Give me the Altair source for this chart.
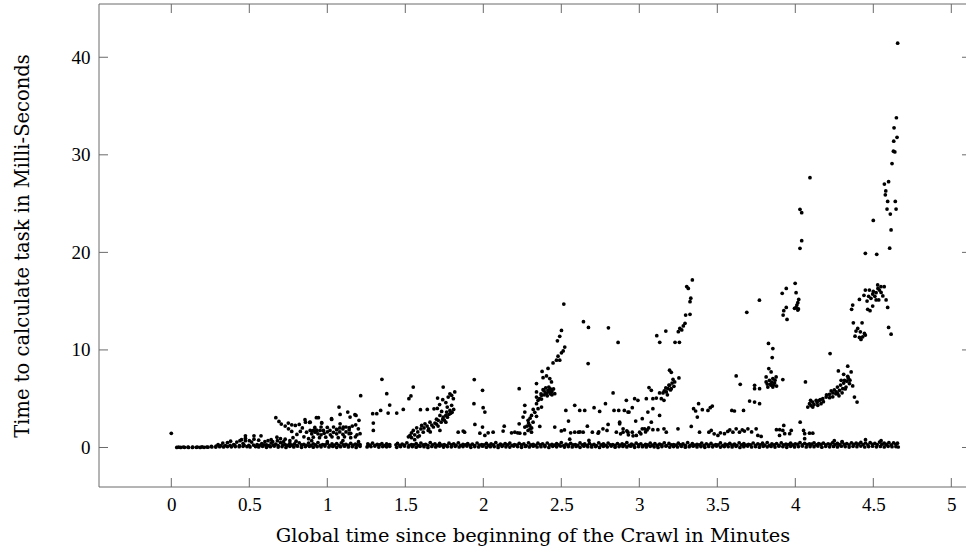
import altair as alt
import pandas as pd

# ---------------- data ----------------
x_ticks = [0, 0.5, 1, 1.5, 2, 2.5, 3, 3.5, 4, 4.5, 5]
y_ticks = [0, 10, 20, 30, 40]

# dense band of fast tasks near 0 ms (lower row)
band_a_x = [
    0.035, 0.06, 0.085, 0.11, 0.135, 0.16, 0.185, 0.21, 0.235, 0.26,
    0.285, 0.31, 0.335, 0.36, 0.385, 0.41, 0.435, 0.46, 0.485, 0.505,
    0.54, 0.56, 0.585, 0.61, 0.635, 0.66, 0.685, 0.71, 0.735, 0.76,
    0.785, 0.81, 0.835, 0.86, 0.885, 0.91, 0.935, 0.96, 0.985, 1.01,
    1.035, 1.06, 1.085, 1.11, 1.135, 1.16, 1.185, 1.21, 1.255, 1.28,
    1.305, 1.33, 1.355, 1.38, 1.40, 1.445, 1.47, 1.495, 1.52, 1.545,
    1.57, 1.595, 1.62, 1.645, 1.67, 1.695, 1.72, 1.745, 1.77, 1.795,
    1.82, 1.845, 1.87, 1.895, 1.92, 1.945, 1.97, 1.995, 2.02, 2.045,
    2.07, 2.095, 2.12, 2.145, 2.17, 2.195, 2.22, 2.245, 2.27, 2.295,
    2.32, 2.345, 2.37, 2.395, 2.42, 2.445, 2.47, 2.495, 2.52, 2.545,
    2.57, 2.595, 2.62, 2.645, 2.67, 2.695, 2.72, 2.745, 2.77, 2.795,
    2.82, 2.845, 2.87, 2.895, 2.92, 2.945, 2.97, 2.995, 3.02, 3.045,
    3.07, 3.095, 3.12, 3.145, 3.17, 3.195, 3.22, 3.245, 3.27, 3.295,
    3.32, 3.345, 3.37, 3.395, 3.42, 3.445, 3.47, 3.495, 3.52, 3.545,
    3.57, 3.595, 3.62, 3.645, 3.67, 3.695, 3.72, 3.745, 3.77, 3.795,
    3.82, 3.845, 3.87, 3.895, 3.92, 3.945, 3.97, 3.995, 4.02, 4.045,
    4.07, 4.095, 4.12, 4.145, 4.17, 4.195, 4.22, 4.245, 4.27, 4.295,
    4.32, 4.345, 4.37, 4.395, 4.42, 4.445, 4.47, 4.495, 4.52, 4.545,
    4.57, 4.595, 4.62, 4.645, 4.66,
]
band_a_y = [
    0.0, 0.0, 0.02, 0.0, 0.0, 0.02, 0.0, 0.02, 0.03, 0.05,
    0.04, 0.08, 0.06, 0.1, 0.07, 0.1, 0.08, 0.12, 0.1, 0.06,
    0.1, 0.05, 0.12, 0.02, 0.08, 0.15, 0.04, 0.1, 0.0, 0.12,
    0.06, 0.14, 0.02, 0.09, 0.12, 0.03, 0.1, 0.07, 0.15, 0.05,
    0.11, 0.02, 0.08, 0.13, 0.05, 0.1, 0.0, 0.12, 0.06, 0.09,
    0.14, 0.04, 0.1, 0.07, 0.12, 0.02, 0.09, 0.15, 0.05, 0.1,
    0.03, 0.12, 0.08, 0.0, 0.11, 0.06, 0.14, 0.04, 0.1, 0.07,
    0.12, 0.05, 0.09, 0.15, 0.02, 0.1, 0.06, 0.13, 0.03, 0.08,
    0.1, 0.0, 0.12, 0.07, 0.04, 0.14, 0.09, 0.02, 0.11, 0.06,
    0.13, 0.05, 0.08, 0.1, 0.01, 0.12, 0.07, 0.15, 0.04, 0.09,
    0.06, 0.11, 0.02, 0.13, 0.08, 0.05, 0.1, 0.0, 0.12, 0.07,
    0.15, 0.03, 0.09, 0.11, 0.06, 0.13, 0.02, 0.1, 0.08, 0.05,
    0.12, 0.07, 0.0, 0.1, 0.14, 0.04, 0.09, 0.06, 0.12, 0.03,
    0.08, 0.13, 0.05, 0.1, 0.02, 0.11, 0.07, 0.15, 0.04, 0.09,
    0.1, 0.06, 0.12, 0.01, 0.08, 0.14, 0.05, 0.1, 0.03, 0.12,
    0.07, 0.11, 0.04, 0.13, 0.09, 0.02, 0.12, 0.06, 0.1, 0.15,
    0.05, 0.1, 0.08, 0.14, 0.03, 0.12, 0.07, 0.11, 0.06, 0.13,
    0.09, 0.04, 0.12, 0.08, 0.15, 0.05, 0.1, 0.13, 0.07, 0.11,
    0.06, 0.12, 0.08, 0.1, 0.05,
]

# dense band, upper row
band_b_x = [
    0.55, 0.58, 0.61, 0.64, 0.67, 0.70, 0.73, 0.76, 0.79, 0.82,
    0.85, 0.88, 0.91, 0.94, 0.97, 1.00, 1.03, 1.06, 1.09, 1.12,
    1.15, 1.18, 1.21, 1.26, 1.29, 1.32, 1.35, 1.38, 1.40, 1.45,
    1.48, 1.51, 1.54, 1.57, 1.60, 1.63, 1.66, 1.69, 1.72, 1.75,
    1.78, 1.81, 1.84, 1.87, 1.90, 1.93, 1.96, 1.99, 2.02, 2.05,
    2.08, 2.11, 2.14, 2.17, 2.20, 2.23, 2.26, 2.29, 2.32, 2.35,
    2.38, 2.41, 2.44, 2.47, 2.50, 2.53, 2.56, 2.59, 2.62, 2.65,
    2.68, 2.71, 2.74, 2.77, 2.80, 2.83, 2.86, 2.89, 2.92, 2.95,
    2.98, 3.01, 3.04, 3.07, 3.10, 3.13, 3.16, 3.19, 3.22, 3.25,
    3.28, 3.31, 3.34, 3.37, 3.40, 3.43, 3.46, 3.49, 3.52, 3.55,
    3.58, 3.61, 3.64, 3.67, 3.70, 3.73, 3.76, 3.79, 3.82, 3.85,
    3.88, 3.91, 3.94, 3.97, 4.00, 4.03, 4.06, 4.09, 4.12, 4.15,
    4.18, 4.21, 4.24, 4.27, 4.30, 4.33, 4.36, 4.39, 4.42, 4.45,
    4.48, 4.51, 4.54, 4.57, 4.60, 4.63, 4.655,
]
band_b_y = [
    0.3, 0.4, 0.28, 0.45, 0.35, 0.5, 0.3, 0.42, 0.36, 0.48,
    0.32, 0.45, 0.38, 0.5, 0.3, 0.44, 0.36, 0.4, 0.48, 0.33,
    0.42, 0.35, 0.3, 0.38, 0.45, 0.32, 0.4, 0.36, 0.3, 0.42,
    0.35, 0.48, 0.3, 0.4, 0.45, 0.33, 0.5, 0.38, 0.42, 0.3,
    0.44, 0.36, 0.48, 0.32, 0.4, 0.35, 0.46, 0.3, 0.42, 0.38,
    0.5, 0.34, 0.4, 0.45, 0.3, 0.42, 0.36, 0.48, 0.33, 0.44,
    0.38, 0.46, 0.32, 0.4, 0.5, 0.35, 0.43, 0.3, 0.47, 0.36,
    0.42, 0.33, 0.48, 0.38, 0.45, 0.3, 0.4, 0.36, 0.5, 0.34,
    0.45, 0.38, 0.32, 0.46, 0.4, 0.35, 0.48, 0.42, 0.3, 0.44,
    0.36, 0.5, 0.4, 0.33, 0.45, 0.38, 0.42, 0.3, 0.47, 0.35,
    0.43, 0.35, 0.48, 0.4, 0.32, 0.46, 0.38, 0.44, 0.5, 0.36,
    0.4, 0.47, 0.34, 0.45, 0.38, 0.5, 0.42, 0.36, 0.48, 0.4,
    0.45, 0.38, 0.5, 0.42, 0.55, 0.4, 0.48, 0.44, 0.52, 0.46,
    0.5, 0.42, 0.55, 0.45, 0.5, 0.48, 0.44,
]

# dense band, middle row
band_c_x = [
    0.047, 0.077, 0.107, 0.137, 0.167, 0.197, 0.227, 0.257, 0.287, 0.317,
    0.347, 0.377, 0.407, 0.437, 0.467, 0.497, 0.527, 0.565, 0.595, 0.625,
    0.655, 0.685, 0.715, 0.745, 0.775, 0.805, 0.835, 0.865, 0.895, 0.925,
    0.955, 0.985, 1.015, 1.045, 1.075, 1.105, 1.135, 1.165, 1.195, 1.262,
    1.275, 1.305, 1.335, 1.365, 1.395, 1.44, 1.465, 1.495, 1.525, 1.555,
    1.585, 1.615, 1.645, 1.675, 1.705, 1.735, 1.765, 1.795, 1.825, 1.855,
    1.885, 1.915, 1.945, 1.975, 2.005, 2.035, 2.065, 2.095, 2.125, 2.155,
    2.185, 2.215, 2.245, 2.275, 2.305, 2.335, 2.365, 2.395, 2.425, 2.455,
    2.485, 2.515, 2.545, 2.575, 2.605, 2.635, 2.665, 2.695, 2.725, 2.755,
    2.785, 2.815, 2.845, 2.875, 2.905, 2.935, 2.965, 2.995, 3.025, 3.055,
    3.085, 3.115, 3.145, 3.175, 3.205, 3.235, 3.265, 3.295, 3.325, 3.355,
    3.385, 3.415, 3.445, 3.475, 3.505, 3.535, 3.565, 3.595, 3.625, 3.655,
    3.685, 3.715, 3.745, 3.775, 3.805, 3.835, 3.865, 3.895, 3.925, 3.955,
    3.985, 4.015, 4.045, 4.075, 4.105, 4.135, 4.165, 4.195, 4.225, 4.255,
    4.285, 4.315, 4.345, 4.375, 4.405, 4.435, 4.465, 4.495, 4.525, 4.555,
    4.585, 4.615, 4.645,
]
band_c_y = [
    0.04, 0.05, 0.03, 0.05, 0.04, 0.06, 0.05, 0.12, 0.15, 0.18,
    0.2, 0.22, 0.25, 0.2, 0.25, 0.22, 0.25, 0.22, 0.26, 0.2,
    0.24, 0.2, 0.27, 0.22, 0.25, 0.19, 0.28, 0.23, 0.21, 0.26,
    0.22, 0.27, 0.2, 0.25, 0.23, 0.28, 0.21, 0.24, 0.26, 0.2,
    0.25, 0.22, 0.28, 0.2, 0.24, 0.27, 0.21, 0.25, 0.23, 0.26,
    0.2, 0.26, 0.23, 0.28, 0.22, 0.25, 0.2, 0.27, 0.24, 0.21,
    0.27, 0.23, 0.2, 0.25, 0.28, 0.22, 0.26, 0.21, 0.24, 0.27,
    0.22, 0.25, 0.28, 0.2, 0.26, 0.23, 0.27, 0.21, 0.25, 0.24,
    0.26, 0.2, 0.24, 0.27, 0.22, 0.28, 0.23, 0.25, 0.2, 0.26,
    0.23, 0.27, 0.21, 0.25, 0.28, 0.22, 0.24, 0.26, 0.2, 0.27,
    0.25, 0.22, 0.26, 0.2, 0.27, 0.24, 0.28, 0.23, 0.21, 0.25,
    0.28, 0.21, 0.25, 0.23, 0.26, 0.2, 0.27, 0.24, 0.22, 0.26,
    0.24, 0.27, 0.22, 0.28, 0.25, 0.21, 0.26, 0.23, 0.27, 0.3,
    0.28, 0.32, 0.26, 0.3, 0.34, 0.28, 0.31, 0.27, 0.33, 0.3,
    0.29, 0.33, 0.27, 0.31, 0.35, 0.3, 0.28, 0.32, 0.3, 0.34,
    0.31, 0.28, 0.33,
]

# scattered (slower) tasks, as (minutes, ms) pairs, grouped by stretch of the crawl
early = [
    (0.0, 1.45), (0.30, 0.3), (0.33, 0.45), (0.36, 0.5), (0.38, 0.65), (0.40, 0.3),
    (0.42, 0.55), (0.44, 0.7), (0.45, 0.8), (0.46, 0.4), (0.475, 1.2), (0.475, 0.95),
    (0.475, 0.7), (0.50, 0.7), (0.515, 0.55), (0.53, 1.2), (0.53, 0.85), (0.56, 0.75),
    (0.575, 1.2), (0.60, 0.6), (0.62, 0.7), (0.64, 0.8), (0.65, 0.6), (0.68, 0.7),
    (0.72, 0.6), (0.76, 0.7), (0.80, 0.65), (0.90, 0.7), (1.00, 0.6), (1.10, 0.7),
    (1.20, 0.6), (0.67, 3.05), (0.69, 2.67), (0.705, 2.4), (0.73, 2.2), (0.75, 2.5),
    (0.772, 2.33), (0.795, 2.26), (0.82, 2.36), (0.84, 2.0), (0.857, 2.85), (0.86, 2.6),
    (0.887, 2.57), (0.93, 3.05), (0.751, 1.92), (0.772, 1.65), (0.805, 1.34),
    (0.827, 1.65), (0.867, 1.57), (0.90, 1.68), (0.922, 1.57), (0.932, 1.75),
    (0.73, 0.85), (0.677, 1.06), (0.70, 0.9), (0.78, 1.0), (0.85, 1.1), (0.88, 0.9),
]
stretch_1 = [
    (0.89, 2.6), (0.943, 3.05), (0.964, 2.54), (1.028, 2.88), (1.075, 4.15),
    (1.082, 3.39), (1.131, 3.63), (1.146, 3.12), (1.184, 3.29), (1.203, 2.78),
    (1.182, 2.33), (1.199, 1.92), (1.21, 1.41), (1.177, 3.36), (1.14, 1.41),
    (1.141, 2.03), (1.103, 2.09), (1.082, 2.43), (1.027, 2.95), (1.017, 1.75),
    (0.954, 1.75), (0.911, 1.75), (1.061, 1.82), (0.964, 2.5), (0.89, 1.75),
    (0.933, 1.75), (0.975, 1.75), (1.06, 1.85), (1.10, 1.9), (1.12, 1.6),
    (1.14, 1.8), (0.92, 2.05), (0.96, 2.1), (1.0, 2.05), (1.04, 2.1), (1.08, 2.0),
    (1.12, 2.1), (1.16, 2.2), (0.90, 1.4), (0.94, 1.4), (0.98, 1.45), (1.02, 1.3),
    (1.06, 1.4), (1.10, 1.35), (1.15, 1.45), (1.18, 1.1), (0.91, 1.06), (0.95, 1.0),
    (0.99, 1.06), (1.03, 1.1), (1.07, 1.0), (1.11, 1.1), (1.15, 1.0), (1.19, 1.3),
    (1.0, 1.6), (1.04, 1.55), (1.08, 1.6), (0.96, 1.3), (1.214, 5.31), (1.381, 5.52),
    (1.40, 4.35), (1.39, 3.53), (1.445, 3.53), (1.342, 3.8), (1.317, 3.46),
    (1.291, 3.46), (1.295, 2.5), (1.295, 1.75), (1.35, 6.99),
]
stretch_2 = [
    (1.487, 3.9), (1.551, 6.2), (1.536, 5.28), (1.523, 5.0), (1.597, 3.87),
    (1.641, 3.9), (1.684, 3.97), (1.743, 6.2), (1.707, 5.07), (1.705, 4.0),
    (1.733, 3.7), (1.769, 4.15), (1.797, 4.32), (1.817, 5.69), (1.797, 5.35),
    (1.775, 5.17), (1.786, 5.5), (1.808, 5.0), (1.76, 4.6), (1.74, 4.9), (1.72, 4.4),
    (1.551, 1.75), (1.573, 2.02), (1.605, 2.26), (1.626, 2.43), (1.658, 2.6),
    (1.647, 1.75), (1.615, 1.57), (1.53, 1.23), (1.711, 2.78), (1.722, 3.29),
    (1.743, 3.12), (1.765, 3.63), (1.786, 3.8), (1.722, 1.75), (1.839, 1.57),
    (1.871, 1.68), (1.54, 1.5), (1.56, 1.3), (1.58, 1.6), (1.59, 1.2), (1.60, 1.9),
    (1.62, 2.0), (1.64, 2.2), (1.65, 1.9), (1.67, 2.3), (1.68, 2.1), (1.69, 2.5),
    (1.70, 2.4), (1.71, 2.2), (1.73, 2.6), (1.74, 2.9), (1.75, 2.8), (1.76, 3.3),
    (1.77, 3.1), (1.78, 3.4), (1.79, 3.5), (1.80, 3.6), (1.81, 3.9), (1.76, 2.6),
    (1.70, 2.9), (1.66, 1.6), (1.58, 1.1), (1.54, 1.0), (1.56, 0.8), (1.52, 1.1),
    (1.942, 6.96), (1.995, 5.86), (1.94, 4.49), (1.999, 4.08), (2.01, 3.63),
    (1.946, 2.36), (1.995, 2.09), (1.978, 1.47), (2.01, 1.23), (2.031, 1.51),
    (2.063, 1.57), (1.88, 1.57),
]
stretch_3 = [
    (2.134, 2.19), (2.127, 1.68), (2.181, 1.51), (2.202, 1.57), (2.234, 1.47),
    (2.22, 1.5), (2.23, 2.43), (2.255, 3.12), (2.266, 4.32), (2.266, 3.63),
    (2.309, 3.29), (2.341, 3.19), (2.287, 2.78), (2.319, 2.6), (2.298, 2.26),
    (2.266, 2.09), (2.287, 1.75), (2.266, 1.41), (2.309, 1.57), (2.362, 2.16),
    (2.23, 6.03), (2.341, 4.49), (2.373, 4.15), (2.351, 3.98), (2.341, 5.69),
    (2.341, 5.17), (2.351, 4.83), (2.373, 4.97), (2.373, 5.35), (2.405, 5.52),
    (2.383, 5.93), (2.415, 5.86), (2.437, 5.69), (2.458, 5.52), (2.437, 6.72),
    (2.426, 7.06), (2.383, 7.16), (2.405, 7.33), (2.377, 7.8), (2.415, 8.1),
    (2.447, 8.67), (2.469, 8.95), (2.49, 8.95), (2.479, 9.36), (2.501, 9.7),
    (2.512, 9.9), (2.522, 10.3), (2.475, 10.93), (2.49, 11.4), (2.501, 12.0),
    (2.516, 14.7), (2.341, 6.55), (2.39, 5.4), (2.40, 5.6), (2.41, 5.3), (2.42, 5.7),
    (2.43, 5.5), (2.44, 5.8), (2.45, 6.0), (2.39, 5.8), (2.40, 6.1), (2.42, 6.2),
    (2.43, 6.0), (2.44, 5.4), (2.36, 5.0), (2.37, 5.5), (2.33, 3.6), (2.32, 3.9),
    (2.30, 3.0), (2.29, 2.5), (2.31, 2.0), (2.28, 2.2), (2.30, 1.9),
    (2.642, 12.9), (2.674, 12.3), (2.802, 12.27), (2.864, 10.77), (2.672, 8.6),
    (2.832, 5.59), (2.458, 2.09), (2.529, 3.8), (2.546, 2.71), (2.586, 4.32),
    (2.618, 3.8), (2.65, 3.8), (2.667, 2.19), (2.586, 1.57), (2.61, 1.57),
    (2.64, 1.57), (2.699, 1.57), (2.71, 4.08), (2.746, 3.7), (2.783, 4.49),
    (2.838, 3.8), (2.868, 3.8), (2.927, 3.63), (2.874, 2.43), (2.853, 1.57),
    (2.896, 1.57), (2.793, 1.75), (2.767, 1.92), (2.736, 1.47), (2.80, 2.36),
    (2.677, 0.72), (2.554, 0.85), (2.50, 1.7), (2.52, 1.8), (2.56, 1.5),
    (2.62, 1.6), (2.74, 1.6), (2.92, 1.7), (2.88, 1.4),
]
stretch_4 = [
    (2.904, 3.8), (2.874, 2.6), (2.896, 1.92), (2.927, 1.57), (2.955, 1.57),
    (2.981, 1.23), (3.002, 1.57), (3.019, 2.95), (2.977, 2.71), (3.019, 1.92),
    (3.034, 1.92), (3.077, 2.6), (3.087, 1.82), (3.119, 1.82), (3.158, 1.92),
    (3.173, 1.57), (3.248, 1.92), (3.333, 2.16), (3.386, 1.57), (3.05, 1.8),
    (3.06, 2.0), (3.04, 1.6), (3.01, 1.4), (2.96, 1.2), (2.93, 1.3),
    (2.917, 4.83), (2.955, 4.08), (2.934, 3.63), (2.97, 5.0), (2.991, 4.83),
    (3.045, 5.0), (3.055, 3.63), (3.087, 5.0), (3.109, 5.07), (3.141, 5.0),
    (3.158, 4.83), (3.13, 3.29), (3.087, 3.98), (3.062, 6.14), (3.077, 5.86),
    (3.13, 5.59), (3.152, 5.59), (3.173, 5.69), (3.184, 6.03), (3.205, 6.03),
    (3.194, 7.92), (3.205, 7.7), (3.216, 6.99), (3.227, 6.72), (3.194, 6.38),
    (3.222, 6.27), (3.254, 7.13), (3.16, 5.8), (3.17, 6.1), (3.19, 6.4), (3.20, 5.9),
    (3.21, 6.6), (3.18, 5.4), (3.34, 17.17), (3.304, 16.5), (3.314, 16.3),
    (3.33, 15.3), (3.325, 14.95), (3.297, 13.58), (3.325, 13.65), (3.293, 12.73),
    (3.282, 12.46), (3.272, 12.05), (3.25, 11.87), (3.26, 12.2), (3.229, 10.78),
    (3.257, 10.78), (3.17, 11.94), (3.112, 11.46), (3.131, 10.78),
    (3.348, 3.98), (3.361, 3.74), (3.38, 4.49), (3.372, 3.12), (3.404, 3.87),
    (3.44, 3.8), (3.455, 4.08), (3.468, 4.25), (3.446, 1.57), (3.461, 1.75),
    (3.504, 1.23), (3.546, 1.41), (3.567, 1.65), (3.60, 1.57), (3.621, 1.92),
    (3.642, 1.57), (3.674, 1.68), (3.696, 1.92), (3.749, 1.92), (3.76, 1.23),
    (3.781, 1.13), (3.52, 1.5), (3.48, 1.4), (3.58, 1.8), (3.66, 1.8), (3.72, 1.6),
    (3.593, 3.8), (3.61, 3.74), (3.668, 3.8), (3.621, 7.33), (3.647, 6.48),
    (3.707, 4.76), (3.739, 4.66), (3.771, 4.49), (3.739, 6.38), (3.739, 6.03),
    (3.771, 6.03), (3.689, 13.86), (3.77, 15.1),
]
stretch_5 = [
    (3.828, 10.66), (3.856, 10.14), (3.852, 9.22), (3.845, 7.75), (3.83, 8.09),
    (3.813, 7.23), (3.834, 6.89), (3.856, 7.06), (3.877, 7.23), (3.867, 6.61),
    (3.845, 6.38), (3.824, 6.2), (3.813, 6.72), (3.92, 6.96), (3.856, 6.2),
    (3.84, 6.5), (3.85, 6.7), (3.86, 6.4), (3.87, 6.9), (3.82, 6.5), (3.88, 6.3),
    (3.942, 16.3), (3.916, 15.8), (3.999, 16.83), (4.005, 15.87), (4.022, 15.18),
    (4.016, 14.84), (4.005, 14.36), (4.016, 14.09), (3.995, 14.26), (3.942, 14.36),
    (3.926, 14.02), (3.922, 13.57), (3.947, 13.13), (4.01, 14.6), (4.02, 14.2),
    (4.03, 24.42), (4.041, 24.07), (4.041, 21.2), (4.03, 20.42), (4.094, 27.66),
    (3.879, 1.82), (3.90, 1.82), (3.926, 2.26), (3.932, 1.41), (3.964, 1.41),
    (3.974, 1.75), (4.031, 2.6), (4.053, 1.75), (4.06, 1.41), (4.091, 1.47),
    (4.112, 1.47), (3.899, 1.23), (3.92, 1.75),
]
stretch_6 = [
    (4.223, 9.63), (4.276, 7.85), (4.336, 8.33), (4.358, 7.75), (4.336, 7.3),
    (4.315, 6.89), (4.294, 6.89), (4.347, 6.55), (4.368, 6.31), (4.325, 6.2),
    (4.304, 6.03), (4.283, 5.86), (4.262, 5.69), (4.272, 5.52), (4.241, 5.59),
    (4.219, 5.45), (4.198, 5.17), (4.176, 5.0), (4.155, 4.83), (4.134, 4.83),
    (4.112, 4.66), (4.091, 4.49), (4.08, 4.15), (4.112, 4.15), (4.144, 4.32),
    (4.165, 4.49), (4.379, 5.17), (4.396, 4.66), (4.065, 6.72), (4.098, 4.83),
    (4.20, 5.4), (4.23, 5.8), (4.25, 5.9), (4.27, 6.2), (4.29, 6.4), (4.31, 6.6),
    (4.32, 6.0), (4.30, 5.6), (4.28, 5.3), (4.26, 5.5), (4.24, 5.2), (4.22, 5.1),
    (4.18, 4.7), (4.16, 4.9), (4.14, 4.6), (4.12, 4.4), (4.10, 4.3), (4.33, 6.8),
    (4.35, 6.9), (4.31, 7.5), (4.34, 7.1),
    (4.528, 16.66), (4.549, 16.48), (4.57, 16.48), (4.539, 16.14), (4.518, 15.87),
    (4.496, 15.73), (4.475, 16.14), (4.449, 16.14), (4.485, 15.29), (4.46, 15.01),
    (4.518, 15.12), (4.535, 15.12), (4.561, 15.53), (4.582, 15.12), (4.464, 14.16),
    (4.479, 14.02), (4.496, 14.5), (4.411, 15.18), (4.368, 14.6), (4.361, 14.16),
    (4.592, 14.36), (4.598, 12.3), (4.614, 11.62), (4.372, 12.78), (4.428, 12.78),
    (4.40, 12.2), (4.389, 11.93), (4.383, 11.41), (4.411, 11.28), (4.432, 11.34),
    (4.449, 11.52), (4.417, 11.86), (4.421, 11.07), (4.443, 11.69), (4.50, 16.0),
    (4.51, 15.5), (4.53, 16.3), (4.55, 15.9), (4.47, 15.5), (4.44, 15.6),
    (4.656, 41.44), (4.648, 33.8), (4.633, 32.77), (4.652, 31.8), (4.631, 31.4),
    (4.629, 30.37), (4.638, 30.3), (4.62, 29.1), (4.571, 27.0), (4.598, 27.25),
    (4.577, 25.9), (4.592, 25.22), (4.641, 25.22), (4.588, 24.44), (4.646, 24.44),
    (4.609, 23.93), (4.50, 23.27), (4.614, 22.3), (4.605, 20.43), (4.449, 19.9),
    (4.522, 19.8), (4.58, 26.3), (4.06, 0.9), (4.25, 0.7), (4.45, 0.8), (4.30, 0.6),
    (4.55, 0.7),
]

# ---------------- build table ----------------
rows = []
for xs_, ys_ in ((band_a_x, band_a_y), (band_b_x, band_b_y), (band_c_x, band_c_y)):
    for a, b in zip(xs_, ys_):
        rows.append({"t": a, "ms": b})
for group in (early, stretch_1, stretch_2, stretch_3, stretch_4, stretch_5, stretch_6):
    for a, b in group:
        rows.append({"t": a, "ms": b})
df = pd.DataFrame(rows)

# ---------------- layout ----------------
W, H = 867, 483
XMIN, XMAX = -0.4635, 5.0942
YMIN, YMAX = -4.05, 45.46
LABEL_FONT = "Liberation Serif"
TITLE_FONT = "DejaVu Serif"
FRAME = "#6a6a6a"

xscale = alt.Scale(domain=[XMIN, XMAX], nice=False, zero=False)
yscale = alt.Scale(domain=[YMIN, YMAX], nice=False, zero=False)

xaxis = alt.Axis(
    values=x_ticks, title="Global time since beginning of the Crawl in Minutes",
    domain=False, ticks=False, grid=False, labelExpr="datum.value + ''",
    labelFont=LABEL_FONT, labelFontSize=19, labelColor="black", labelPadding=8,
    labelFlush=False, labelOverlap=False,
    titleFont=TITLE_FONT, titleFontSize=19.4, titleColor="black", titleFontWeight="normal",
    titleBaseline="alphabetic", titleY=54,
)
yaxis = alt.Axis(
    values=y_ticks, title="Time to calculate task in Milli-Seconds",
    domain=False, ticks=False, grid=False,
    labelFont=LABEL_FONT, labelFontSize=19, labelColor="black", labelPadding=9,
    labelOverlap=False,
    titleFont=TITLE_FONT, titleFontSize=19.5, titleColor="black", titleFontWeight="normal",
    titleBaseline="alphabetic", titleX=-71, titleY=241.5, titleAngle=270,
)

X = alt.X("t:Q", scale=xscale, axis=xaxis)
Y = alt.Y("ms:Q", scale=yscale, axis=yaxis)

points = alt.Chart(df).mark_circle(size=14, color="black", opacity=1).encode(x=X, y=Y)

xt = pd.DataFrame({"t": x_ticks})
yt = pd.DataFrame({"ms": y_ticks})
one = pd.DataFrame({"k": [0]})

tick_style = dict(color=FRAME, strokeWidth=1)
top_ticks = alt.Chart(xt).mark_rule(**tick_style).encode(x=X, y=alt.value(0), y2=alt.value(9))
bot_ticks = alt.Chart(xt).mark_rule(**tick_style).encode(x=X, y=alt.value(H - 9), y2=alt.value(H))
left_ticks = alt.Chart(yt).mark_rule(**tick_style).encode(y=Y, x=alt.value(0), x2=alt.value(9))
right_ticks = alt.Chart(yt).mark_rule(**tick_style).encode(y=Y, x=alt.value(W - 4), x2=alt.value(W + 6))

frame_left = alt.Chart(one).mark_rule(**tick_style).encode(x=alt.value(0), y=alt.value(0), y2=alt.value(H))
frame_top = alt.Chart(one).mark_rule(**tick_style).encode(y=alt.value(0), x=alt.value(0), x2=alt.value(W + 6))
frame_bot = alt.Chart(one).mark_rule(**tick_style).encode(y=alt.value(H), x=alt.value(0), x2=alt.value(W + 6))

chart = alt.layer(
    frame_left, frame_top, frame_bot, top_ticks, bot_ticks, left_ticks, right_ticks, points
).properties(
    width=W, height=H,
    autosize=alt.AutoSizeParams(type="none"),
    padding={"left": 99, "top": 4, "right": 0, "bottom": 65},
    background="white",
).configure_view(stroke=None)

chart.save("out.html", embed_options={"renderer": "svg", "actions": False})
